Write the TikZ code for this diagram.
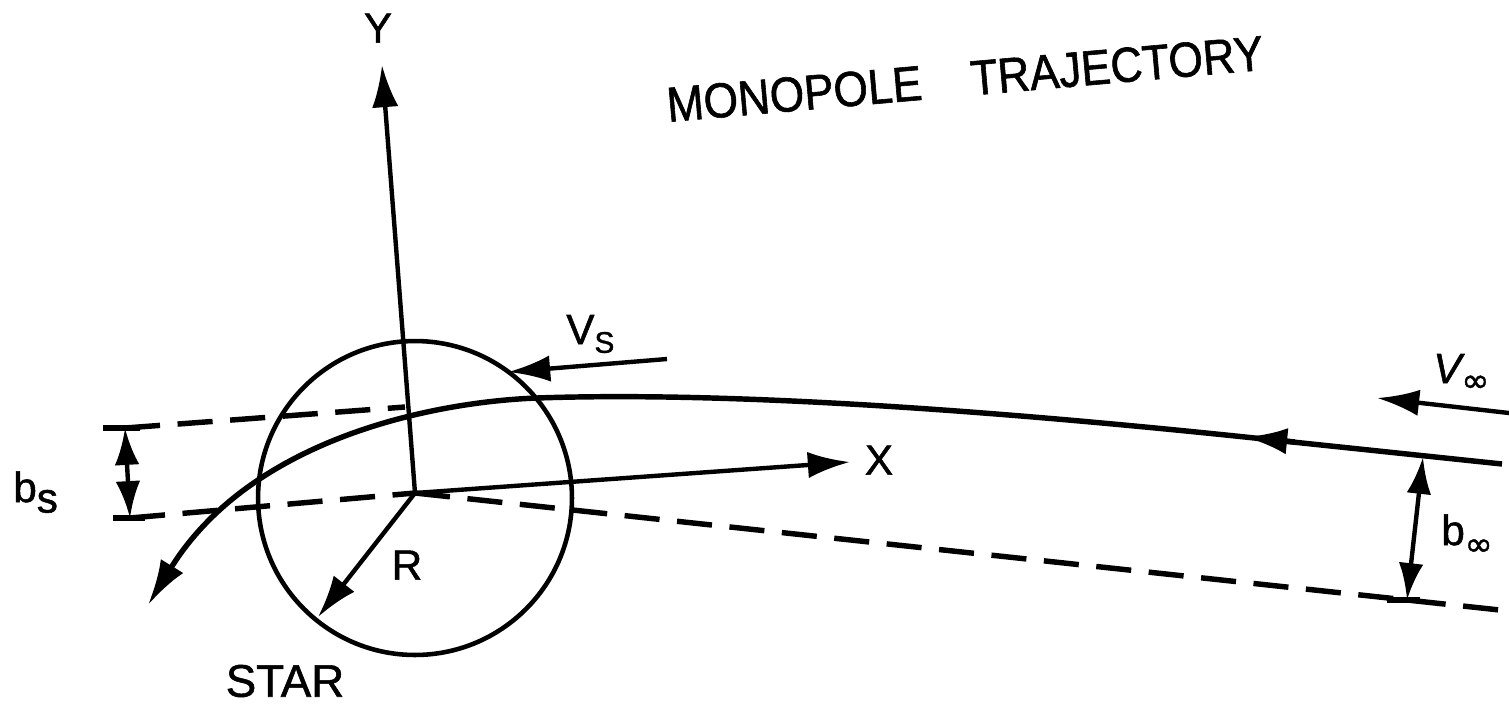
\documentclass[tikz,border=0pt]{standalone}
\usepackage{fontspec}
\setmainfont{Liberation Sans}[FakeBold=1.2]
\newfontfamily\titlefont{Liberation Sans}[FakeStretch=0.9,FakeBold=1.2]
\newfontfamily\symfont{DejaVu Sans}[FakeBold=1.2]
\usetikzlibrary{arrows.meta}
\tikzset{
  axisline/.style={line width=2.5pt},
  trajline/.style={line width=3.1pt},
  dashline/.style={line width=3.1pt, dash pattern=on 20pt off 10pt},
  bigtip/.style={-{Latex[length=24pt,width=15pt]}},
  dbltip/.style={{Latex[length=21pt,width=14pt]}-{Latex[length=21pt,width=14pt]}},
  barline/.style={line width=3.2pt},
  lbl/.style={font=\fontsize{24}{28}\selectfont, inner sep=0pt},
}
\begin{document}
\begin{tikzpicture}[x=0.02cm,y=-0.02cm]
\useasboundingbox (0,0) rectangle (1509,711);

% key points
\coordinate (O) at (415,493);
\coordinate (Ytip) at (382,65);
\coordinate (Xtip) at (850,462);
\coordinate (Rtip) at (318,617);
\coordinate (bsTop) at (125,428);
\coordinate (bsBot) at (130,518);
\coordinate (upEnd) at (405,407);
\coordinate (farR) at (1509,611);
\coordinate (binfTop) at (1423,457);
\coordinate (binfBot) at (1407,600);
\coordinate (vsTail) at (667,359);
\coordinate (vsTip) at (508,372);
\coordinate (viTail) at (1509,413);
\coordinate (viTip) at (1377,398);
\coordinate (midA) at (1295,442);
\coordinate (midB) at (1245,437);
\coordinate (trIn) at (1502,464);
\coordinate (trTop) at (537,398);
\coordinate (trOut) at (148,605);

% star
\node[draw, circle, line width=2.6pt, minimum size=6.28cm, inner sep=0pt] (star) at (415,498) {};

% dashed lines
\draw[dashline] (bsTop) -- (upEnd);
\draw[dashline] (bsBot) -- (O);
\draw[dashline] (O) -- (farR);

% axes and radius
\draw[axisline, bigtip] (O) -- (Ytip);
\draw[axisline, bigtip] (O) -- (Xtip);
\draw[axisline, bigtip] (O) -- (Rtip);

% trajectory
\draw[trajline, -{Latex[length=26pt,width=15pt]}] (trIn) -- (midB)
  .. controls (900,401) and (680,393) .. (trTop)
  .. controls (430,402) and (250,440) .. (trOut);
\draw[trajline, bigtip] (midA) -- (midB);

% velocity arrows
\draw[axisline, bigtip] (vsTail) -- (vsTip);
\draw[axisline, bigtip] (viTail) -- (viTip);

% impact parameter arrows
\draw[axisline, dbltip] (bsTop) -- (bsBot);
\draw[barline] ([xshift=-0.44cm]bsTop) -- ([xshift=0.3cm]bsTop);
\draw[barline] ([xshift=-0.34cm]bsBot) -- ([xshift=0.3cm]bsBot);
\draw[axisline, dbltip] (binfTop) -- (binfBot);
\draw[barline] ([xshift=-0.4cm]binfBot) -- ([xshift=0.26cm]binfBot);

% labels
\node[lbl] (ylab) at (378,28) {Y};
\node[lbl] (xlab) at (879,460) {X};
\node[lbl] (rlab) at (407,565) {R};
\node[lbl, font=\fontsize{26}{30}\selectfont] (starlab) at (285,681) {STAR};
\node[lbl, anchor=base west] (vslab) at (566,344) {V\raisebox{-5pt}{\fontsize{17}{20}\selectfont S}};
\node[lbl, anchor=base west] (vinflab) at (1433,383) {\itshape V\raisebox{-5pt}{\upshape\symfont\fontsize{19}{22}\selectfont ∞}};
\node[lbl, anchor=base west] (binflab) at (1441,545) {b\raisebox{-6pt}{\symfont\fontsize{19}{22}\selectfont ∞}};
\node[lbl, anchor=base west] (bslab) at (13,502) {b\raisebox{-6pt}{s}};
\node[anchor=base west, rotate=5, inner sep=0pt, font=\titlefont\fontsize{28}{32}\selectfont] (title) at (668,122) {MONOPOLE\hspace{1em}TRAJECTORY};
\end{tikzpicture}
\end{document}
